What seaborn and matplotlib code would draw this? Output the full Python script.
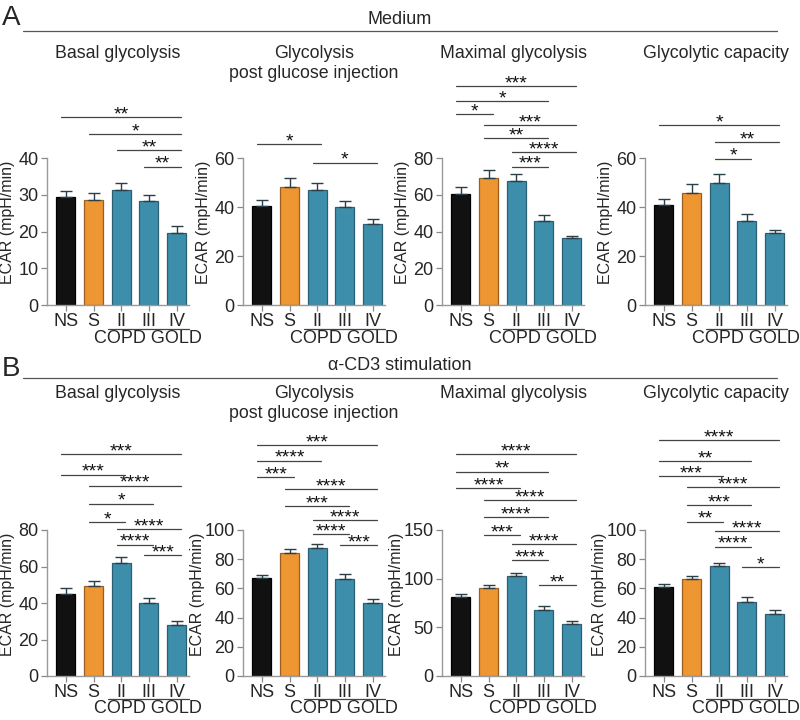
import numpy as np
import pandas as pd
import seaborn as sns
import matplotlib.pyplot as plt
from matplotlib.transforms import blended_transform_factory

sns.set_style('ticks')
plt.rcParams['font.family'] = ['Liberation Sans', 'DejaVu Sans']

# Groups
groups = ['NS', 'S', 'II', 'III', 'IV']
colors = ['#111111', '#EE9632', '#3D8EAB', '#3D8EAB', '#3D8EAB']
edges = ['#000000', '#9A5E1E', '#2A5F73', '#2A5F73', '#2A5F73']

titles = ['Basal glycolysis', 'Glycolysis\npost glucose injection',
          'Maximal glycolysis', 'Glycolytic capacity']

# Row A: medium (mean, upper error end)
medium_mean = [
    [29.5, 28.7, 31.2, 28.4, 19.7],
    [40.5, 48.0, 47.0, 39.8, 33.0],
    [60.5, 69.0, 67.5, 45.5, 36.2],
    [41.0, 45.8, 49.8, 34.2, 29.3],
]
medium_top = [
    [31.0, 30.5, 33.3, 30.0, 21.6],
    [43.0, 52.0, 50.0, 42.6, 35.0],
    [64.0, 73.5, 71.5, 49.0, 37.7],
    [43.3, 49.5, 53.5, 37.0, 30.8],
]
medium_ymax = [40, 60, 80, 60]
medium_ystep = [10, 20, 20, 20]
# (group i, group j, stars, height)
medium_sig = [
    [(0, 4, '**', 51.1), (1, 4, '*', 46.5), (2, 4, '**', 42.2), (3, 4, '**', 37.6)],
    [(0, 2, '*', 65.7), (2, 4, '*', 58.1)],
    [(0, 4, '***', 119.0), (0, 3, '*', 111.0), (0, 1, '*', 103.8), (1, 4, '***', 97.8),
     (1, 3, '**', 90.7), (2, 4, '****', 83.3), (2, 3, '***', 75.3)],
    [(0, 4, '*', 73.3), (2, 4, '**', 66.4), (2, 3, '*', 59.7)],
]

# Row B: alpha-CD3 stimulation
cd3_mean = [
    [45.0, 49.3, 61.8, 40.2, 28.0],
    [67.0, 84.5, 88.0, 66.5, 50.0],
    [81.0, 90.5, 103.0, 68.0, 53.5],
    [60.7, 66.5, 75.3, 50.5, 42.3],
]
cd3_top = [
    [48.0, 52.0, 65.2, 42.7, 30.2],
    [69.5, 87.0, 90.7, 69.8, 52.7],
    [84.0, 93.0, 105.5, 72.0, 56.5],
    [63.0, 68.3, 77.3, 54.0, 45.0],
]
cd3_ymax = [80, 100, 150, 100]
cd3_ystep = [20, 20, 50, 20]
cd3_sig = [
    [(0, 4, '***', 121.5), (0, 2, '***', 110.3), (1, 4, '****', 104.3), (1, 3, '*', 94.4),
     (1, 2, '*', 84.4), (2, 4, '****', 80.4), (2, 3, '****', 71.9), (3, 4, '***', 66.1)],
    [(0, 4, '***', 158.2), (0, 2, '****', 147.5), (0, 1, '***', 136.1), (1, 4, '****', 127.9),
     (1, 3, '***', 116.4), (2, 4, '****', 106.8), (2, 3, '****', 97.3), (3, 4, '***', 89.5)],
    [(0, 4, '****', 227.8), (0, 3, '**', 210.0), (0, 2, '****', 193.2), (1, 4, '****', 180.9),
     (1, 3, '****', 163.4), (1, 2, '***', 144.9), (2, 4, '****', 135.7), (2, 3, '****', 119.2),
     (3, 4, '**', 93.5)],
    [(0, 4, '****', 161.4), (0, 3, '**', 147.3), (0, 2, '***', 137.0), (1, 4, '****', 129.2),
     (1, 3, '***', 117.1), (1, 2, '**', 105.7), (2, 4, '****', 99.3), (2, 3, '****', 88.6),
     (3, 4, '*', 74.5)],
]

W, H = 800, 720
fig = plt.figure(figsize=(8, 7.2), dpi=100)

lefts = [47, 243, 442, 645]
ax_w = 142


def draw_panel(ax, means, tops, ymax, ystep, sig, title, title_y):
    df = pd.DataFrame({'group': groups, 'ecar': means})
    sns.barplot(data=df, x='group', y='ecar', hue='group', palette=colors,
                saturation=1, legend=False, width=0.68, errorbar=None, ax=ax, zorder=2)
    for p, ec in zip(ax.patches, edges):
        p.set_edgecolor(ec)
        p.set_linewidth(0.9)
    x = np.arange(len(groups))
    m = np.array(means)
    t = np.array(tops)
    ax.errorbar(x, m, yerr=[np.zeros_like(m), t - m], fmt='none',
                ecolor='#2b3f48', elinewidth=1.0, capsize=4, capthick=1.0, zorder=3)
    ax.set_xlim(-0.68, 4.45)
    ax.set_ylim(0, ymax)
    ax.set_yticks(np.arange(0, ymax + 1, ystep))
    ax.set_xlabel('')
    ax.set_ylabel('ECAR (mpH/min)', fontsize=11.5)
    lab_x = -0.27 if ymax >= 100 else -0.225
    ax.yaxis.set_label_coords(lab_x, 0.56)
    ax.tick_params(axis='both', labelsize=13, color='#888888', length=4, width=0.9, pad=2)
    sns.despine(ax=ax)
    for s in ['left', 'bottom']:
        ax.spines[s].set_color('#999999')
        ax.spines[s].set_linewidth(1.0)
    # significance brackets
    for i, j, stars, h in sig:
        ax.plot([i - 0.16, j + 0.15], [h, h], color='#444444', lw=0.9,
                clip_on=False, zorder=4)
        ax.annotate(stars, xy=((i + j) / 2, h), xytext=(0, -1.5),
                    textcoords='offset points', ha='center', va='baseline',
                    fontsize=14, color='#111111', annotation_clip=False)
    # COPD GOLD group label
    tr = blended_transform_factory(ax.transData, ax.transAxes)
    ax.plot([1.52, 4.45], [-0.16, -0.16], color='#444444', lw=0.9,
            transform=tr, clip_on=False)
    ax.text(2.98, -0.225, 'COPD GOLD', transform=tr, ha='center', va='center',
            fontsize=13)
    ax.text(0.5, title_y, title, transform=ax.transAxes, ha='center', va='top',
            fontsize=12.8, linespacing=1.25)


rows = [
    (305, 147, medium_mean, medium_top, medium_ymax, medium_ystep, medium_sig, 45),
    (676, 146, cd3_mean, cd3_top, cd3_ymax, cd3_ystep, cd3_sig, 385),
]
for bottom, height, means, tops, ymaxs, ysteps, sigs, title_py in rows:
    for k in range(4):
        ax = fig.add_axes([lefts[k] / W, (H - bottom) / H, ax_w / W, height / H])
        title_y = (bottom - title_py) / height
        draw_panel(ax, means[k], tops[k], ymaxs[k], ysteps[k], sigs[k], titles[k], title_y)

# section headers
fig.text(2 / W, 1 - 18 / H, 'A', fontsize=20, ha='left', va='center')
fig.text(400 / W, 1 - 20 / H, 'Medium', fontsize=13, ha='center', va='center')
fig.add_artist(plt.Line2D([23 / W, 777 / W], [1 - 31 / H, 1 - 31 / H],
                          color='#555555', lw=0.9))
fig.text(2 / W, 1 - 369 / H, 'B', fontsize=20, ha='left', va='center')
fig.text(400 / W, 1 - 366 / H, 'α-CD3 stimulation', fontsize=13,
         ha='center', va='center')
fig.add_artist(plt.Line2D([23 / W, 777 / W], [1 - 378 / H, 1 - 378 / H],
                          color='#555555', lw=0.9))

fig.savefig('out.png', dpi=100)
